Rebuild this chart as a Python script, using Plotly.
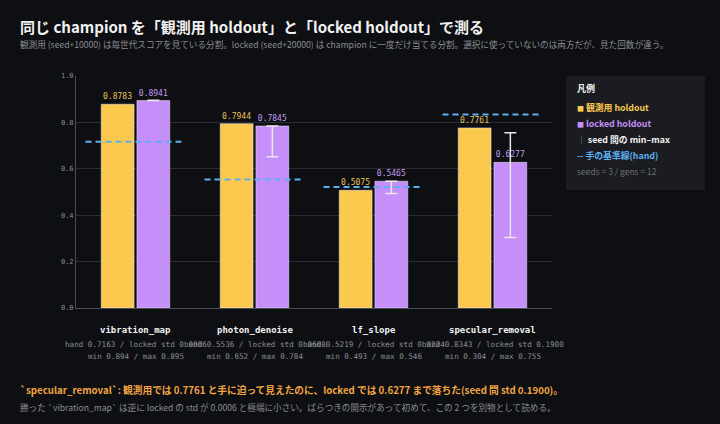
import plotly.graph_objects as go

# champion scores per task: observed holdout vs locked holdout (mean over seeds)
TASKS = ["vibration_map", "photon_denoise", "lf_slope", "specular_removal"]
OBSERVED = [0.8783, 0.7944, 0.5075, 0.7761]
LOCKED = [0.8941, 0.7845, 0.5465, 0.6277]
LOCKED_MIN = [0.894, 0.652, 0.493, 0.304]
LOCKED_MAX = [0.895, 0.784, 0.546, 0.755]
LOCKED_STD = [0.0006, 0.0608, 0.0224, 0.1900]
HAND = [0.7163, 0.5536, 0.5219, 0.8343]
Y_TICKS = [0.0, 0.2, 0.4, 0.6, 0.8, 1.0]

BG = "#0e0f13"
PANEL = "#1b1c21"
INK = "#f2f2f2"
MUTED = "#8a8d94"
GRID = "#2a2c33"
YELLOW = "#fcc94f"
YELLOW_TXT = "#e8c15a"
PURPLE = "#c68ef8"
PURPLE_TXT = "#c29cf0"
BLUE = "#5db0f0"
ORANGE = "#f2a541"

JP = "Noto Sans CJK JP, Noto Sans, sans-serif"
MONO = "DejaVu Sans Mono, monospace"

fig = go.Figure()
fig.add_bar(
    x=TASKS, y=OBSERVED, name="観測用 holdout", marker_color=YELLOW,
    texttemplate="%{y:.4f}", textposition="outside",
    textfont=dict(family=MONO, size=8, color=YELLOW_TXT), cliponaxis=False,
)
fig.add_bar(
    x=TASKS, y=LOCKED, name="locked holdout", marker_color=PURPLE,
    texttemplate="%{y:.4f}", textposition="outside",
    textfont=dict(family=MONO, size=8, color=PURPLE_TXT), cliponaxis=False,
    error_y=dict(
        type="data", symmetric=False,
        array=[hi - m for hi, m in zip(LOCKED_MAX, LOCKED)],
        arrayminus=[m - lo for m, lo in zip(LOCKED, LOCKED_MIN)],
        color="#e8e8e8", thickness=1.5, width=6,
    ),
)

# hand baselines: dashed segments centred on each task group
for i, h in enumerate(HAND):
    fig.add_shape(
        type="line", xref="x", yref="y", x0=i - 0.42, x1=i + 0.42, y0=h, y1=h,
        line=dict(color=BLUE, width=2, dash="6px,4px"), layer="above",
    )

# per-task labels under the axis (the long middle lines overlap, as in the source)
for task, h, sd, lo, hi in zip(TASKS, HAND, LOCKED_STD, LOCKED_MIN, LOCKED_MAX):
    for text, shift, size, color in [
        (f"<b>{task}</b>", -22, 9, INK),
        (f"hand {h:.4f} / locked std {sd:.4f}", -36, 7.6, MUTED),
        (f"min {lo:.3f} / max {hi:.3f}", -48, 7.6, MUTED),
    ]:
        fig.add_annotation(
            x=task, xref="x", y=0, yref="paper", yshift=shift, text=text,
            showarrow=False, xanchor="center", yanchor="middle",
            font=dict(family=MONO, size=size, color=color),
        )

# title block
fig.add_annotation(
    x=-0.1218, y=1.2155, xref="paper", yref="paper", xanchor="left", yanchor="middle",
    showarrow=False, text="<b>同じ champion を「観測用 holdout」と「locked holdout」で測る</b>",
    font=dict(family=JP, size=15, color=INK),
)
fig.add_annotation(
    x=-0.1218, y=1.138, xref="paper", yref="paper", xanchor="left", yanchor="middle",
    showarrow=False,
    text="観測用 (seed+10000) は毎世代スコアを見ている分割。locked (seed+20000) は champion に一度だけ当てる分割。"
         "選択に使っていないのは両方だが、見た回数が違う。",
    font=dict(family=JP, size=8.6, color=MUTED),
)

# legend panel
fig.add_shape(
    type="rect", xref="paper", yref="paper", x0=1.0294, x1=1.3214, y0=0.5086, y1=1.0,
    fillcolor=PANEL, line_width=0, layer="below",
)
legend_rows = [
    ("<b>凡例</b>", 0.944, INK, 9),
    (f"<b><span style='color:{YELLOW};font-size:7px'>■</span> 観測用 holdout</b>", 0.866, YELLOW, 8.8),
    (f"<b><span style='color:{PURPLE};font-size:7px'>■</span> locked holdout</b>", 0.797, PURPLE, 8.8),
    (f"<span style='color:{MUTED}'>│</span> <b>seed 間の min–max</b>", 0.728, INK, 8.8),
    ("<b>-- 手の基準線(hand)</b>", 0.659, BLUE, 8.8),
    ("seeds = 3 / gens = 12", 0.591, "#6c6f76", 8.5),
]
for text, y, color, size in legend_rows:
    fig.add_annotation(
        x=1.0483, y=y, xref="paper", yref="paper", xanchor="left", yanchor="middle",
        showarrow=False, text=text, font=dict(family=JP, size=size, color=color),
    )

# takeaway
fig.add_annotation(
    x=-0.1218, y=-0.353, xref="paper", yref="paper", xanchor="left", yanchor="middle",
    showarrow=False,
    text="<b>`specular_removal`: 観測用では 0.7761 と手に迫って見えたのに、locked では 0.6277 まで落ちた"
         "(seed 間 std 0.1900)。</b>",
    font=dict(family=JP, size=9.7, color=ORANGE),
)
fig.add_annotation(
    x=-0.1218, y=-0.427, xref="paper", yref="paper", xanchor="left", yanchor="middle",
    showarrow=False,
    text="勝った `vibration_map` は逆に locked の std が 0.0006 と極端に小さい。"
         "ばらつきの開示があって初めて、この 2 つを別物として読める。",
    font=dict(family=JP, size=8.6, color=MUTED),
)

fig.update_layout(
    width=720, height=424,
    margin=dict(l=76, r=168, t=76, b=116),
    paper_bgcolor=BG, plot_bgcolor=BG,
    barmode="group", bargap=0.4, bargroupgap=0.08,
    showlegend=False,
    font=dict(family=JP, color=INK),
)
fig.update_xaxes(
    showticklabels=False, showgrid=False, showline=True, linecolor="#4a4d55",
    range=[-0.5, 3.5],
)
fig.update_yaxes(
    range=[0, 1], tickvals=Y_TICKS, tickformat=".1f",
    tickfont=dict(family=MONO, size=7, color=MUTED),
    gridcolor=GRID, showline=True, linecolor="#4a4d55", zeroline=False,
    ticks="", ticklen=3,
)

# page body margin would shift the figure off the window's origin
fig.write_html(
    "out.html",
    config={"displayModeBar": False},
    post_script="document.body.style.margin='0';document.body.style.background='#0e0f13';",
)
